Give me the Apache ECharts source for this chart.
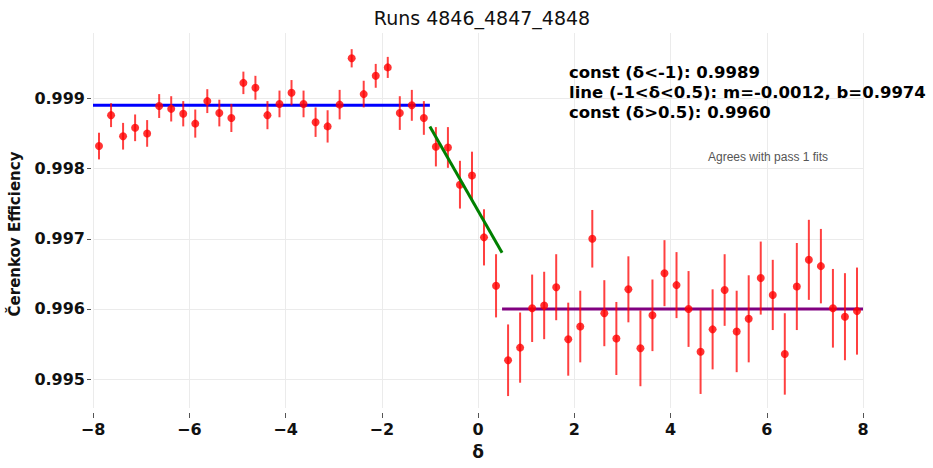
<!DOCTYPE html>
<html>
<head>
<meta charset="utf-8">
<script src="https://cdn.jsdelivr.net/npm/echarts@6/dist/echarts.min.js"></script>
<style>
  html, body { margin: 0; padding: 0; background: #fff; }
  #chart { width: 933px; height: 468px; }
</style>
</head>
<body>
<div id="chart"></div>
<script>
// Bin centres in delta
const delta = [
  -7.875, -7.625, -7.375, -7.125, -6.875, -6.625, -6.375, -6.125,
  -5.875, -5.625, -5.375, -5.125, -4.875, -4.625, -4.375, -4.125,
  -3.875, -3.625, -3.375, -3.125, -2.875, -2.625, -2.375, -2.125,
  -1.875, -1.625, -1.375, -1.125, -0.875, -0.625, -0.375, -0.125,
  0.125, 0.375, 0.625, 0.875, 1.125, 1.375, 1.625, 1.875,
  2.125, 2.375, 2.625, 2.875, 3.125, 3.375, 3.625, 3.875,
  4.125, 4.375, 4.625, 4.875, 5.125, 5.375, 5.625, 5.875,
  6.125, 6.375, 6.625, 6.875, 7.125, 7.375, 7.625, 7.875
];

// Measured Cherenkov efficiency per bin
const efficiency = [
  0.99832, 0.99876, 0.99846, 0.99858, 0.99850, 0.99889, 0.99885, 0.99878,
  0.99864, 0.99896, 0.99879, 0.99872, 0.99922, 0.99915, 0.99876, 0.99892,
  0.99908, 0.99892, 0.99866, 0.99860, 0.99891, 0.99957, 0.99906, 0.99932,
  0.99944, 0.99879, 0.99890, 0.99872, 0.99831, 0.99830, 0.99777, 0.99790,
  0.99702, 0.99633, 0.99527, 0.99545, 0.99601, 0.99605, 0.99631, 0.99557,
  0.99575, 0.99700, 0.99594, 0.99558, 0.99628, 0.99544, 0.99591, 0.99651,
  0.99634, 0.99600, 0.99539, 0.99571, 0.99627, 0.99568, 0.99586, 0.99644,
  0.99620, 0.99536, 0.99632, 0.99670, 0.99661, 0.99601, 0.99589, 0.99597
];

// Statistical uncertainty per bin
const uncertainty = [
  0.00019, 0.00017, 0.00019, 0.00019, 0.00019, 0.00017, 0.00018, 0.00018,
  0.00020, 0.00017, 0.00019, 0.00020, 0.00016, 0.00017, 0.00020, 0.00019,
  0.00018, 0.00019, 0.00021, 0.00023, 0.00021, 0.00013, 0.00019, 0.00017,
  0.00015, 0.00024, 0.00022, 0.00024, 0.00028, 0.00029, 0.00034, 0.00034,
  0.00040, 0.00045, 0.00051, 0.00050, 0.00048, 0.00048, 0.00047, 0.00052,
  0.00051, 0.00041, 0.00047, 0.00052, 0.00047, 0.00054, 0.00051, 0.00047,
  0.00047, 0.00054, 0.00060, 0.00057, 0.00051, 0.00058, 0.00062, 0.00052,
  0.00050, 0.00058, 0.00062, 0.00057, 0.00053, 0.00056, 0.00062, 0.00062
];

// Piecewise fit results
const constLow = 0.9989;        // delta < -1
const lineSlope = -0.0012;      // -1 < delta < 0.5
const lineIntercept = 0.9974;
const constHigh = 0.9960;       // delta > 0.5
const fitBreaks = [-8, -1, 0.5, 8];

// Axis ticks
const xTicks = [-8, -6, -4, -2, 0, 2, 4, 6, 8];
const yTicks = [0.995, 0.996, 0.997, 0.998, 0.999];

const title = 'Runs 4846_4847_4848';
const fitText = [
  'const (δ<-1): ' + constLow.toFixed(4),
  'line (-1<δ<0.5): m=' + lineSlope.toFixed(4) + ', b=' + lineIntercept.toFixed(4),
  'const (δ>0.5): ' + constHigh.toFixed(4)
];
const noteText = 'Agrees with pass 1 fits';

const points = delta.map((d, i) => [d, efficiency[i], uncertainty[i]]);
const lineAt = x => lineSlope * x + lineIntercept;

const FONT = 'DejaVu Sans';
const chart = echarts.init(document.getElementById('chart'), null, { renderer: 'svg' });

chart.setOption({
  animation: false,
  backgroundColor: '#ffffff',
  title: {
    text: title,
    left: 477,
    top: 3,
    textAlign: 'center',
    textStyle: { fontFamily: FONT, fontSize: 19, fontWeight: 'normal', color: '#111' }
  },
  grid: { left: 93, right: 70, top: 33, bottom: 60, outerBoundsMode: 'none' },
  xAxis: {
    type: 'value',
    min: xTicks[0],
    max: xTicks[xTicks.length - 1],
    interval: 2,
    offset: 5,
    name: 'δ',
    nameLocation: 'middle',
    nameGap: 30,
    nameTextStyle: { fontFamily: FONT, fontSize: 17, fontWeight: 'bold', color: '#111' },
    axisLine: { show: false, onZero: false },
    axisTick: { show: true, length: 5, lineStyle: { color: '#555' } },
    axisLabel: {
      margin: 8,
      fontFamily: FONT, fontSize: 16, fontWeight: 'bold', color: '#111',
      formatter: v => (v < 0 ? '\u2212' + Math.abs(v) : String(v))
    },
    splitLine: { show: true, lineStyle: { color: '#ebebeb', width: 1 } }
  },
  yAxis: {
    type: 'value',
    min: 0.99459,
    max: 0.99993,
    offset: 2,
    axisLine: { show: false, onZero: false },
    axisTick: { show: true, length: 4, customValues: yTicks, lineStyle: { color: '#555' } },
    axisLabel: {
      margin: 6,
      customValues: yTicks,
      fontFamily: FONT, fontSize: 16, fontWeight: 'bold', color: '#111',
      formatter: v => v.toFixed(3)
    },
    splitLine: { show: true, customValues: yTicks, lineStyle: { color: '#ebebeb', width: 1 } }
  },
  graphic: [
    {
      type: 'text',
      z: 100,
      x: 15, y: 234,
      rotation: Math.PI / 2,
      style: {
        text: 'Čerenkov Efficiency',
        fontFamily: FONT, fontSize: 15, fontWeight: 'bold', fill: '#111',
        align: 'center', verticalAlign: 'middle'
      }
    },
    {
      type: 'text',
      z: 100,
      x: 569, y: 62,
      style: {
        text: fitText.join('\n'),
        fontFamily: FONT, fontSize: 16.5, fontWeight: 'bold', fill: '#000',
        lineHeight: 20, align: 'left', verticalAlign: 'top'
      }
    },
    {
      type: 'text',
      z: 100,
      x: 708, y: 151,
      style: {
        text: noteText,
        fontFamily: 'Liberation Sans', fontSize: 12, fill: '#555',
        align: 'left', verticalAlign: 'top'
      }
    }
  ],
  series: [
    {
      name: 'const low',
      type: 'line',
      symbol: 'none',
      z: 2,
      lineStyle: { color: '#0000ff', width: 3 },
      data: [[fitBreaks[0], constLow], [fitBreaks[1], constLow]]
    },
    {
      name: 'linear',
      type: 'line',
      symbol: 'none',
      z: 4,
      lineStyle: { color: '#008000', width: 3 },
      data: [[fitBreaks[1], lineAt(fitBreaks[1])], [fitBreaks[2], lineAt(fitBreaks[2])]]
    },
    {
      name: 'const high',
      type: 'line',
      symbol: 'none',
      z: 2,
      lineStyle: { color: '#800080', width: 3 },
      data: [[fitBreaks[2], constHigh], [fitBreaks[3], constHigh]]
    },
    {
      name: 'error bars',
      type: 'custom',
      z: 3,
      renderItem: (params, api) => {
        const x = api.value(0), y = api.value(1), e = api.value(2);
        const top = api.coord([x, y + e]);
        const bot = api.coord([x, y - e]);
        return {
          type: 'line',
          shape: { x1: top[0], y1: top[1], x2: bot[0], y2: bot[1] },
          style: { stroke: 'rgba(255,0,0,0.75)', lineWidth: 2 }
        };
      },
      encode: { x: 0, y: 1 },
      data: points
    },
    {
      name: 'efficiency',
      type: 'scatter',
      symbol: 'circle',
      symbolSize: 8,
      z: 3,
      itemStyle: { color: '#ff0000' },
      data: points.map(p => [p[0], p[1]])
    }
  ]
});
</script>
</body>
</html>
